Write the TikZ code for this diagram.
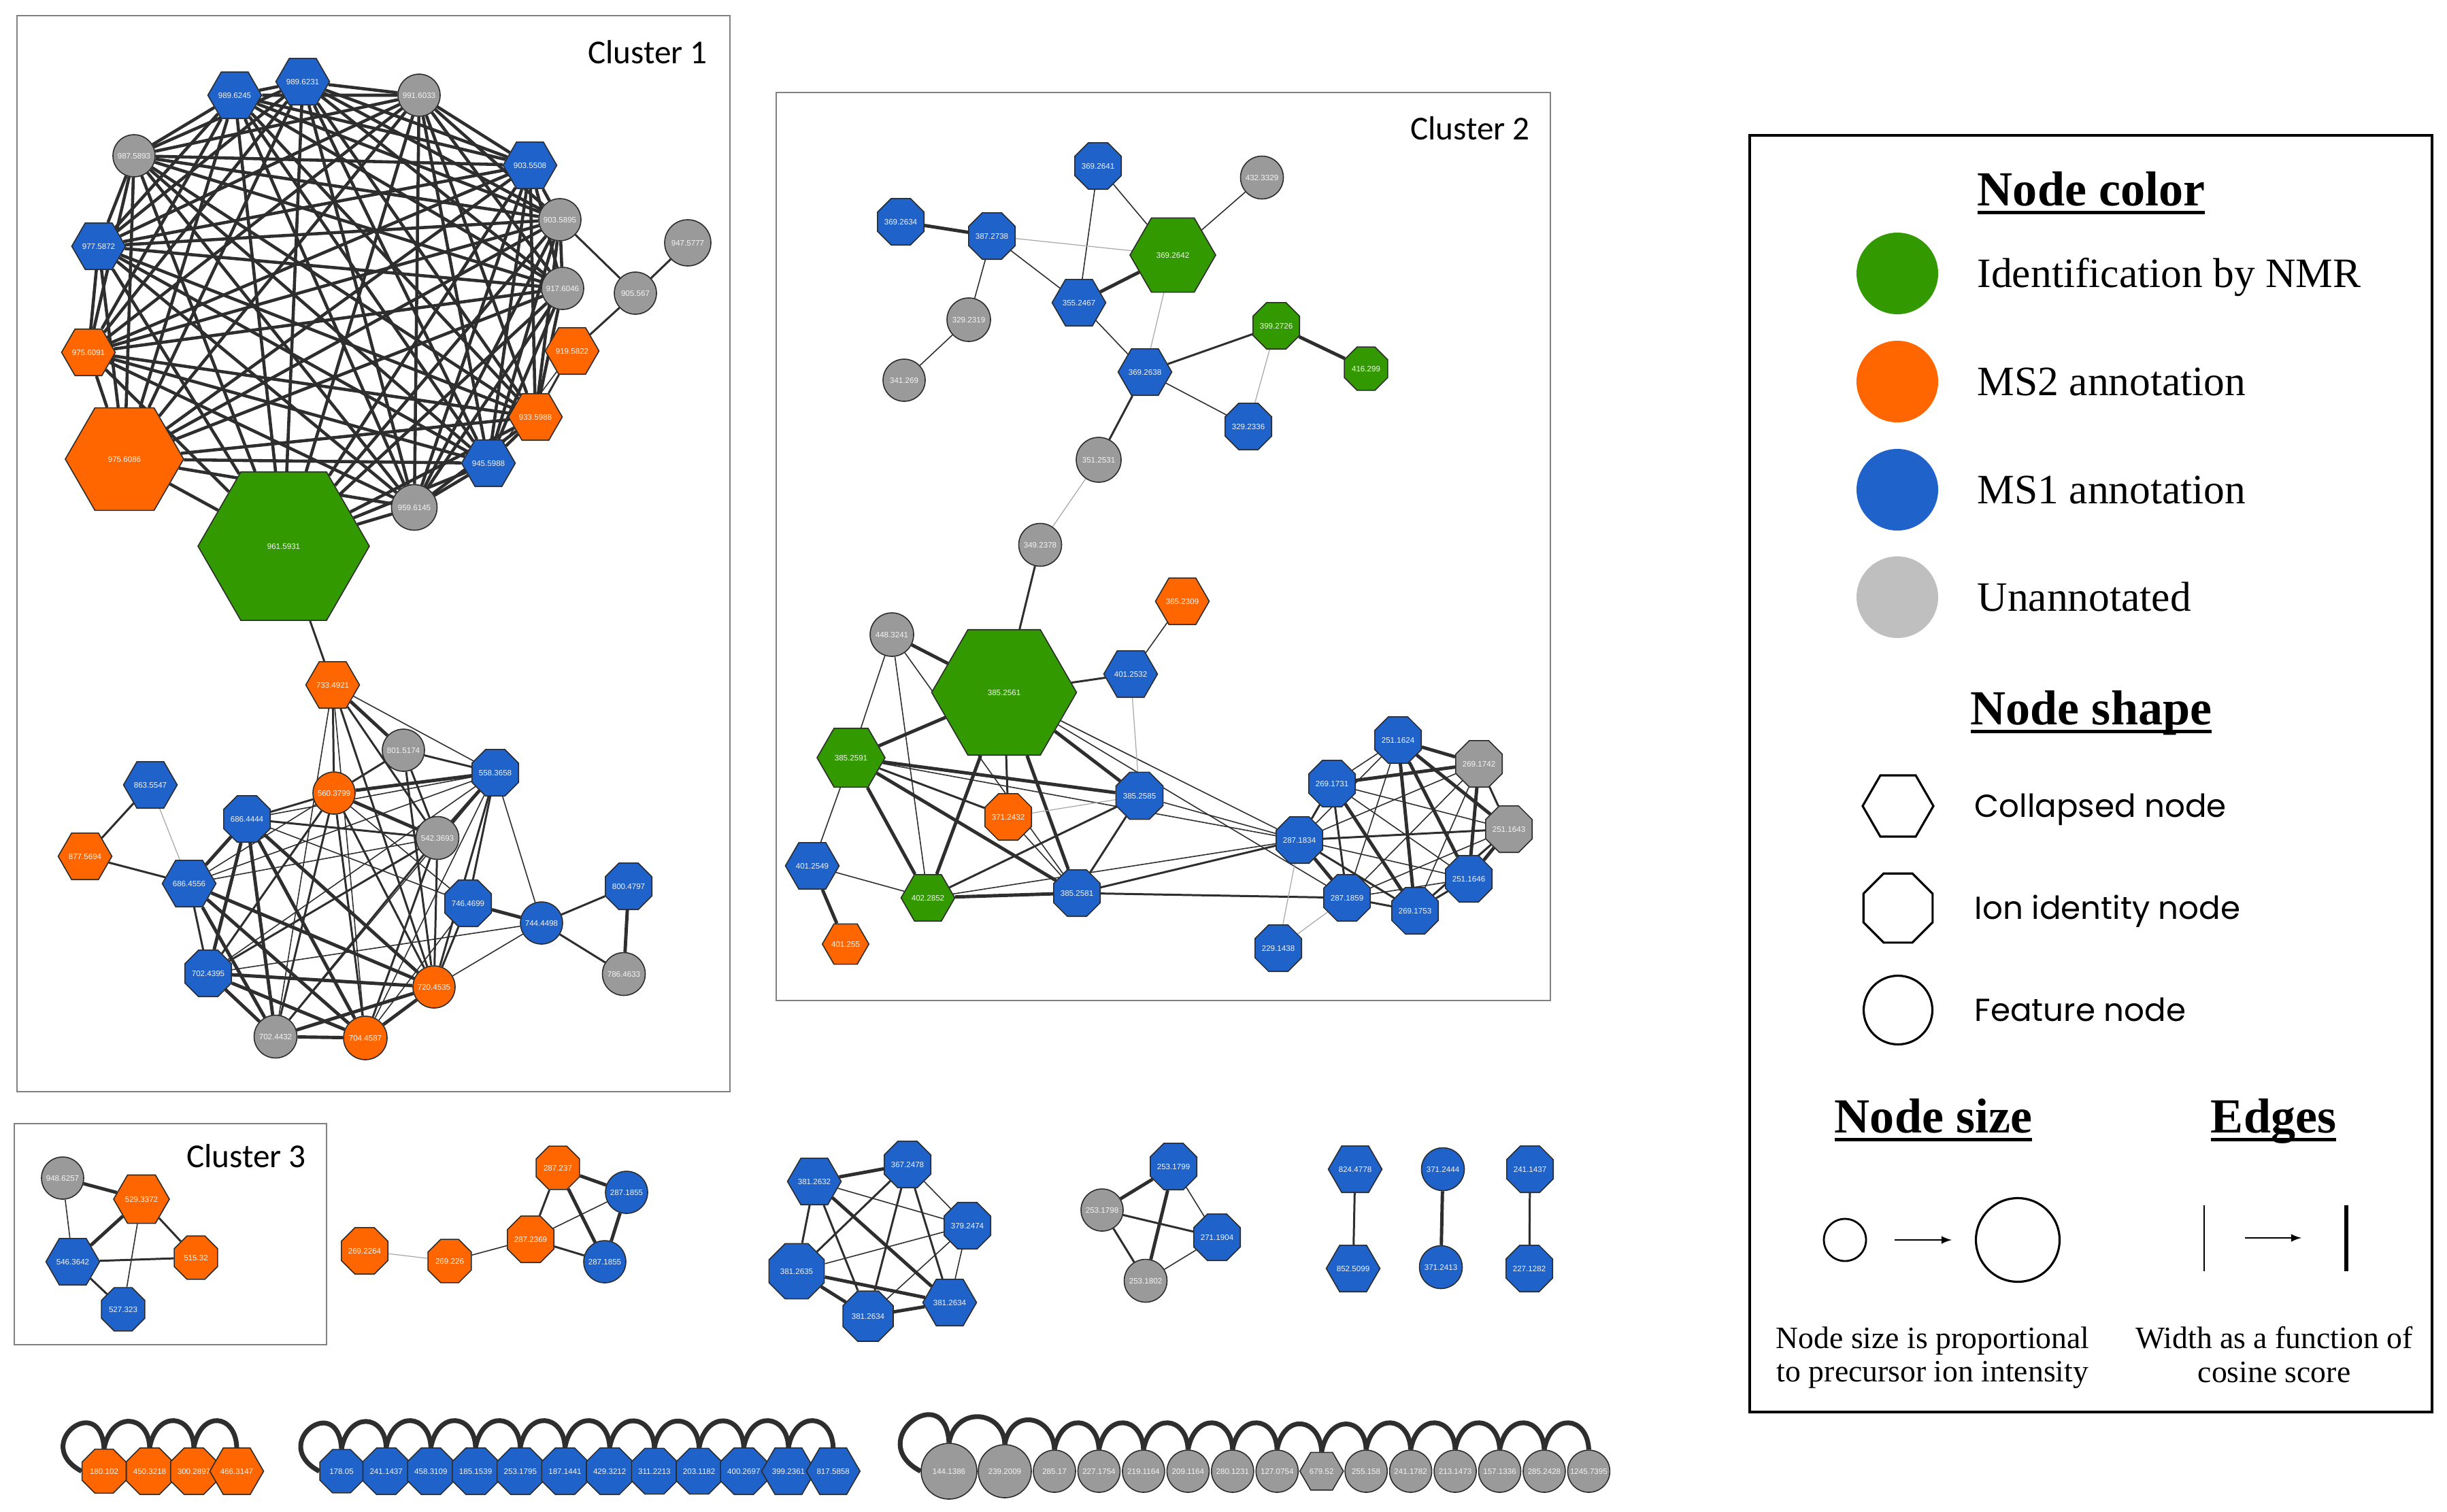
\documentclass[tikz,border=0pt]{standalone}
\usepackage{fontspec}
\setmainfont{Liberation Serif}
\newfontfamily\labelfont{Liberation Sans}
\newfontfamily\clusterfont{Carlito}
\newfontfamily\shapefont{Poppins}
\usetikzlibrary{shapes.geometric,backgrounds}
\definecolor{NmrColor}{HTML}{339900}
\definecolor{MsTwoColor}{HTML}{FF6600}
\definecolor{MsOneColor}{HTML}{1F62CA}
\definecolor{UnannColor}{HTML}{9A9A9A}
\definecolor{UnannLegend}{HTML}{BFBFBF}
\definecolor{BorderColor}{HTML}{2B2B2B}
\definecolor{EdgeColor}{HTML}{2E2E2E}
\definecolor{FaintEdge}{HTML}{A8A8A8}
\definecolor{FrameColor}{HTML}{808080}
\definecolor{LabelColor}{HTML}{F4F4F4}
\tikzstyle{net_node}=[draw=BorderColor, line width=0.45pt, inner sep=0pt,
                      text=LabelColor, font=\labelfont\fontsize{3.3}{3.6}\selectfont]
\tikzstyle{collapsed_node}=[net_node, regular polygon, regular polygon sides=6, minimum size=0.64cm]
\tikzstyle{ion_node}=[net_node, regular polygon, regular polygon sides=8, minimum size=0.69cm]
\tikzstyle{feature_node}=[net_node, circle, minimum size=0.62cm]
\tikzstyle{nmr}=[fill=NmrColor]
\tikzstyle{mstwo}=[fill=MsTwoColor]
\tikzstyle{msone}=[fill=MsOneColor]
\tikzstyle{unann}=[fill=UnannColor]
\tikzstyle{edge_heavy}=[line width=1.4pt, draw=EdgeColor]
\tikzstyle{edge_mid}=[line width=0.85pt, draw=EdgeColor]
\tikzstyle{edge_thin}=[line width=0.45pt, draw=EdgeColor]
\tikzstyle{edge_faint}=[line width=0.35pt, draw=FaintEdge]
\tikzstyle{edge_loop}=[line width=2.0pt, draw=EdgeColor]
\tikzstyle{cluster_frame}=[draw=FrameColor, line width=0.6pt]
\tikzstyle{cluster_label}=[anchor=base, inner sep=0pt, font=\clusterfont\fontsize{14}{17}\selectfont]
\tikzstyle{legend_title}=[anchor=base, inner sep=0pt, font=\bfseries\fontsize{20.5}{24}\selectfont]
\tikzstyle{legend_item}=[anchor=base west, inner sep=0pt, font=\fontsize{17.5}{21}\selectfont]
\tikzstyle{shape_item}=[anchor=base west, inner sep=0pt, font=\shapefont\fontsize{13.3}{16}\selectfont]
\tikzstyle{legend_caption}=[anchor=north, inner sep=0pt, align=center, font=\fontsize{13}{14}\selectfont]
\tikzstyle{legend_shape}=[draw=black, line width=0.9pt, inner sep=0pt]
\newcommand{\LegendTitle}[1]{\setbox0\hbox{#1}\rlap{\rule[-3.6pt]{\wd0}{1.2pt}}\box0}

\begin{document}
\begin{tikzpicture}
    \useasboundingbox (0cm, 0cm) rectangle (35.97cm, -22.22cm);
    \begin{scope}[on background layer]
        \fill[white] (0cm, 0cm) rectangle (35.97cm, -22.22cm);
    \end{scope}

    % ---------------------------------------------------------------------------------------------------------
    %  Cluster 1
    \draw[cluster_frame] (0.25cm, -0.23cm) rectangle (10.73cm, -16.05cm);
    \node at (9.52cm, -0.93cm) (Cl1) [cluster_label] {Cluster 1};

    \node at (3.45cm, -1.40cm) (A0) [collapsed_node, msone, minimum size=0.76cm] {989.6245};
    \node at (4.45cm, -1.20cm) (A1) [collapsed_node, msone] {989.6231};
    \node at (6.16cm, -1.40cm) (A2) [feature_node, unann] {991.6033};
    \node at (1.97cm, -2.29cm) (A3) [feature_node, unann] {987.5893};
    \node at (7.79cm, -2.43cm) (A4) [collapsed_node, msone] {903.5508};
    \node at (8.23cm, -3.23cm) (A5) [feature_node, unann] {903.5895};
    \node at (8.27cm, -4.24cm) (A6) [feature_node, unann] {917.6046};
    \node at (9.34cm, -4.31cm) (A7) [feature_node, unann] {905.567};
    \node at (10.11cm, -3.57cm) (A8) [feature_node, unann, minimum size=0.68cm] {947.5777};
    \node at (1.45cm, -3.62cm) (A9) [collapsed_node, msone] {977.5872};
    \node at (1.30cm, -5.18cm) (A10) [collapsed_node, mstwo, minimum size=0.65cm] {975.6091};
    \node at (8.41cm, -5.16cm) (A11) [collapsed_node, mstwo, minimum size=0.65cm] {919.5822};
    \node at (7.87cm, -6.13cm) (A12) [collapsed_node, mstwo] {933.5988};
    \node at (1.83cm, -6.75cm) (A13) [collapsed_node, mstwo, minimum size=1.74cm] {975.6086};
    \node at (7.18cm, -6.81cm) (A14) [collapsed_node, msone, minimum size=0.76cm] {945.5988};
    \node at (6.09cm, -7.46cm) (A15) [feature_node, unann, minimum size=0.67cm] {959.6145};
    \node at (4.17cm, -8.03cm) (A16) [collapsed_node, nmr, minimum size=2.52cm] {961.5931};

    \node at (4.89cm, -10.07cm) (B0) [collapsed_node, mstwo] {733.4921};
    \node at (5.93cm, -11.03cm) (B1) [feature_node, unann] {801.5174};
    \node at (7.28cm, -11.36cm) (B2) [ion_node, msone] {558.3658};
    \node at (4.91cm, -11.66cm) (B3) [feature_node, mstwo] {560.3799};
    \node at (2.21cm, -11.54cm) (B4) [collapsed_node, msone] {863.5547};
    \node at (3.63cm, -12.04cm) (B5) [ion_node, msone] {686.4444};
    \node at (6.43cm, -12.32cm) (B6) [feature_node, unann, minimum size=0.63cm] {542.3693};
    \node at (1.25cm, -12.59cm) (B7) [collapsed_node, mstwo] {877.5694};
    \node at (2.78cm, -12.99cm) (B8) [collapsed_node, msone] {686.4556};
    \node at (6.88cm, -13.28cm) (B9) [ion_node, msone] {746.4699};
    \node at (7.96cm, -13.57cm) (B10) [feature_node, msone] {744.4498};
    \node at (9.24cm, -13.03cm) (B11) [ion_node, msone] {800.4797};
    \node at (3.06cm, -14.31cm) (B12) [ion_node, msone] {702.4395};
    \node at (6.38cm, -14.51cm) (B13) [feature_node, mstwo] {720.4535};
    \node at (9.17cm, -14.32cm) (B14) [feature_node, unann, minimum size=0.63cm] {786.4633};
    \node at (4.05cm, -15.24cm) (B15) [feature_node, unann, minimum size=0.63cm] {702.4432};
    \node at (5.37cm, -15.26cm) (B16) [feature_node, mstwo, minimum size=0.64cm] {704.4587};

    \begin{scope}[on background layer]
        \foreach \i in {0,1,2,3,4,5,6,9,10,12,13,14,15,16} {
            \foreach \j in {0,1,2,3,4,5,6,9,10,12,13,14,15,16} {
                \ifnum\i<\j \draw[line width=1.3pt, draw=EdgeColor] (A\i) -- (A\j); \fi
            }
        }
        \foreach \a/\b in {A5/A7, A7/A8, A7/A11, A11/A12, A16/B0}
            \draw[edge_mid] (\a) -- (\b);
        \draw[edge_thin] (A11) -- (A14);

        \foreach \a/\b in {B0/B1, B2/B3, B2/B6, B3/B6, B5/B8, B5/B12, B5/B15, B5/B16, B5/B13, B8/B15,
                           B8/B16, B8/B13, B9/B10, B11/B14, B12/B13, B12/B16, B12/B15, B13/B16, B15/B16, B15/B13}
            \draw[edge_heavy] (\a) -- (\b);
        \foreach \a/\b in {B0/B3, B0/B6, B0/B13, B1/B3, B1/B2, B1/B6, B1/B13, B3/B5, B3/B12, B3/B15, B3/B16,
                           B3/B13, B2/B9, B2/B13, B4/B7, B7/B8, B5/B6, B6/B12, B6/B15, B6/B16, B6/B13, B8/B12,
                           B9/B13, B10/B11, B10/B14}
            \draw[edge_mid] (\a) -- (\b);
        \foreach \a/\b in {B0/B2, B0/B15, B0/B16, B2/B5, B2/B8, B2/B10, B2/B15, B2/B12, B3/B8, B3/B9, B5/B9,
                           B6/B8, B10/B12, B10/B13, B9/B16, B2/B16}
            \draw[edge_thin] (\a) -- (\b);
        \draw[edge_faint] (B4) -- (B8);
    \end{scope}

    % ---------------------------------------------------------------------------------------------------------
    %  Cluster 2
    \draw[cluster_frame] (11.41cm, -1.36cm) rectangle (22.79cm, -14.71cm);
    \node at (21.61cm, -2.05cm) (Cl2) [cluster_label] {Cluster 2};

    \node at (16.14cm, -2.44cm) (D0) [ion_node, msone] {369.2641};
    \node at (18.55cm, -2.61cm) (D1) [feature_node, unann, minimum size=0.63cm] {432.3329};
    \node at (13.24cm, -3.26cm) (D2) [ion_node, msone] {369.2634};
    \node at (14.58cm, -3.47cm) (D3) [ion_node, msone] {387.2738};
    \node at (17.24cm, -3.75cm) (D4) [collapsed_node, nmr, minimum size=1.26cm] {369.2642};
    \node at (15.86cm, -4.45cm) (D5) [collapsed_node, msone] {355.2467};
    \node at (14.24cm, -4.70cm) (D6) [feature_node, unann, minimum size=0.64cm] {329.2319};
    \node at (18.76cm, -4.79cm) (D7) [ion_node, nmr, minimum size=0.73cm] {399.2726};
    \node at (13.29cm, -5.59cm) (D8) [feature_node, unann] {341.269};
    \node at (16.83cm, -5.47cm) (D9) [collapsed_node, msone, minimum size=0.66cm] {369.2638};
    \node at (20.08cm, -5.42cm) (D10) [ion_node, nmr] {416.299};
    \node at (18.35cm, -6.27cm) (D11) [ion_node, msone] {329.2336};
    \node at (16.15cm, -6.76cm) (D12) [feature_node, unann, minimum size=0.66cm] {351.2531};
    \node at (15.29cm, -8.01cm) (D13) [feature_node, unann, minimum size=0.63cm] {349.2378};

    \node at (17.38cm, -8.84cm) (E0) [collapsed_node, mstwo, minimum size=0.63cm] {365.2309};
    \node at (13.11cm, -9.33cm) (E1) [feature_node, unann, minimum size=0.64cm] {448.3241};
    \node at (14.76cm, -10.18cm) (E2) [collapsed_node, nmr, minimum size=2.13cm] {385.2561};
    \node at (16.62cm, -9.91cm) (E3) [collapsed_node, msone, minimum size=0.76cm] {401.2532};
    \node at (12.51cm, -11.14cm) (E4) [collapsed_node, nmr, minimum size=1.00cm] {385.2591};
    \node at (16.75cm, -11.70cm) (E5) [ion_node, msone, minimum size=0.75cm] {385.2585};
    \node at (14.82cm, -12.01cm) (E6) [ion_node, mstwo, minimum size=0.67cm] {371.2432};
    \node at (11.94cm, -12.73cm) (E7) [collapsed_node, msone, minimum size=0.62cm] {401.2549};
    \node at (13.64cm, -13.20cm) (E8) [collapsed_node, nmr, minimum size=0.66cm] {402.2852};
    \node at (15.83cm, -13.13cm) (E9) [ion_node, msone] {385.2581};
    \node at (12.43cm, -13.88cm) (E10) [collapsed_node, mstwo, minimum size=0.63cm] {401.255};

    \node at (20.55cm, -10.88cm) (F1) [ion_node, msone] {251.1624};
    \node at (21.74cm, -11.23cm) (F2) [ion_node, unann] {269.1742};
    \node at (19.58cm, -11.52cm) (F3) [ion_node, msone] {269.1731};
    \node at (22.18cm, -12.19cm) (F4) [ion_node, unann] {251.1643};
    \node at (19.10cm, -12.35cm) (F5) [ion_node, msone] {287.1834};
    \node at (21.59cm, -12.92cm) (F6) [ion_node, msone] {251.1646};
    \node at (19.80cm, -13.20cm) (F7) [ion_node, msone, minimum size=0.72cm] {287.1859};
    \node at (20.80cm, -13.39cm) (F8) [ion_node, msone] {269.1753};
    \node at (18.79cm, -13.94cm) (F9) [ion_node, msone] {229.1438};

    \begin{scope}[on background layer]
        \foreach \i in {1,...,8} {
            \foreach \j in {1,...,8} {
                \ifnum\i<\j \draw[edge_thin] (F\i) -- (F\j); \fi
            }
        }
        \foreach \a/\b in {D2/D3, D4/D5, D7/D10, E1/E2, E2/E4, E2/E8, E2/E9, E4/E5, E4/E8, E4/E9, E7/E10,
                           E8/E9, E2/E5, F1/F2, F1/F4, F1/F6, F2/F3, F3/F8, F4/F6, F5/F7, F1/F8, F2/F6}
            \draw[edge_heavy] (\a) -- (\b);
        \foreach \a/\b in {D7/D9, D9/D12, D13/E2, E2/E3, E2/E6, E4/E6, E5/E8, E5/E9, E9/F5, E9/F7,
                           F2/F4, F3/F5, F3/F7, F4/F5, F4/F8, F5/F8, F6/F8, F7/F8}
            \draw[edge_mid] (\a) -- (\b);
        \foreach \a/\b in {D0/D4, D0/D5, D1/D4, D3/D5, D3/D6, D6/D8, D5/D9, D9/D11, E0/E3, E1/E4, E1/E8,
                           E1/E9, E2/F5, E2/F7, E4/E7, E7/E8, E6/E9, E8/F5, E4/F5, E5/F5}
            \draw[edge_thin] (\a) -- (\b);
        \foreach \a/\b in {D3/D4, D4/D9, D7/D11, D12/D13, E3/E5, E5/E6, F9/F5, F9/F7}
            \draw[edge_faint] (\a) -- (\b);
    \end{scope}

    % ---------------------------------------------------------------------------------------------------------
    %  Cluster 3 and small components
    \draw[cluster_frame] (0.21cm, -16.52cm) rectangle (4.80cm, -19.77cm);
    \node at (3.62cm, -17.16cm) (Cl3) [cluster_label] {Cluster 3};

    \node at (0.92cm, -17.32cm) (G0) [feature_node, unann] {948.6257};
    \node at (2.08cm, -17.63cm) (G1) [collapsed_node, mstwo, minimum size=0.82cm] {529.3372};
    \node at (1.07cm, -18.55cm) (G2) [collapsed_node, msone, minimum size=0.62cm] {546.3642};
    \node at (2.88cm, -18.49cm) (G3) [ion_node, mstwo] {515.32};
    \node at (1.81cm, -19.25cm) (G4) [ion_node, msone] {527.323};

    \node at (5.36cm, -18.39cm) (H0) [ion_node, mstwo] {269.2264};
    \node at (6.61cm, -18.54cm) (H1) [ion_node, mstwo] {269.226};
    \node at (7.80cm, -18.22cm) (H2) [ion_node, mstwo] {287.2369};
    \node at (8.20cm, -17.17cm) (H3) [ion_node, mstwo] {287.237};
    \node at (9.21cm, -17.53cm) (H4) [feature_node, msone] {287.1855};
    \node at (8.89cm, -18.55cm) (H5) [feature_node, msone] {287.1855};

    \node at (11.97cm, -17.37cm) (I0) [collapsed_node, msone, minimum size=0.62cm] {381.2632};
    \node at (13.34cm, -17.12cm) (I1) [ion_node, msone, minimum size=0.71cm] {367.2478};
    \node at (14.22cm, -18.02cm) (I2) [ion_node, msone] {379.2474};
    \node at (11.71cm, -18.69cm) (I3) [ion_node, msone, minimum size=0.88cm] {381.2635};
    \node at (12.76cm, -19.35cm) (I4) [ion_node, msone, minimum size=0.80cm] {381.2634};
    \node at (13.96cm, -19.15cm) (I5) [collapsed_node, msone] {381.2634};

    \node at (17.25cm, -17.15cm) (J0) [ion_node, msone] {253.1799};
    \node at (16.20cm, -17.79cm) (J1) [feature_node, unann] {253.1798};
    \node at (17.89cm, -18.19cm) (J2) [ion_node, msone, minimum size=0.72cm] {271.1904};
    \node at (16.84cm, -18.83cm) (J3) [feature_node, unann, minimum size=0.63cm] {253.1802};

    \node at (19.92cm, -17.19cm) (P0) [collapsed_node, msone] {824.4778};
    \node at (19.89cm, -18.65cm) (P1) [collapsed_node, msone] {852.5099};
    \node at (21.21cm, -17.19cm) (P2) [feature_node, msone, minimum size=0.63cm] {371.2444};
    \node at (21.18cm, -18.63cm) (P3) [feature_node, msone, minimum size=0.63cm] {371.2413};
    \node at (22.49cm, -17.19cm) (P4) [ion_node, msone] {241.1437};
    \node at (22.48cm, -18.65cm) (P5) [ion_node, msone] {227.1282};

    \begin{scope}[on background layer]
        \foreach \a/\b in {G0/G1, G1/G2, H3/H4, H3/H5, H4/H5, I0/I1, I0/I5, I3/I4, I3/I5, I4/I5,
                           J0/J1, J0/J3, P2/P3}
            \draw[edge_heavy] (\a) -- (\b);
        \foreach \a/\b in {G1/G3, G2/G3, G2/G4, H2/H3, H2/H5, I0/I3, I0/I4, I1/I3, I1/I5, I1/I4,
                           J1/J3, J1/J2, P0/P1, P4/P5}
            \draw[edge_mid] (\a) -- (\b);
        \foreach \a/\b in {G0/G2, G1/G4, H1/H2, H2/H4, I0/I2, I1/I2, I2/I3, I2/I4, I2/I5, J0/J2, J2/J3}
            \draw[edge_thin] (\a) -- (\b);
        \draw[edge_faint] (H0) -- (H1);
    \end{scope}

    % ---------------------------------------------------------------------------------------------------------
    %  Self-loop rows
    \node at (1.53cm, -21.63cm) (R0) [ion_node, mstwo, minimum size=0.70cm] {180.102};
    \node at (2.20cm, -21.63cm) (R1) [ion_node, mstwo, minimum size=0.70cm] {450.3218};
    \node at (2.85cm, -21.63cm) (R2) [ion_node, mstwo, minimum size=0.70cm] {300.2897};
    \node at (3.48cm, -21.63cm) (R3) [collapsed_node, mstwo, minimum size=0.60cm] {466.3147};

    \foreach \lbl/\shp [count=\k from 0] in {178.05/ion_node, 241.1437/ion_node, 458.3109/ion_node,
            185.1539/ion_node, 253.1795/ion_node, 187.1441/ion_node, 429.3212/ion_node, 311.2213/ion_node,
            203.1182/ion_node, 400.2697/ion_node, 399.2361/collapsed_node, 817.5858/collapsed_node}
        \node at ({5.02cm + 0.657cm*\k}, -21.63cm) (S\k) [\shp, msone] {\lbl};

    \node at (13.95cm, -21.63cm) (T0) [feature_node, unann, minimum size=0.82cm] {144.1386};
    \node at (14.77cm, -21.63cm) (T1) [feature_node, unann, minimum size=0.78cm] {239.2009};
    \foreach \lbl/\shp [count=\k from 2] in {285.17/feature_node, 227.1754/feature_node,
            219.1164/feature_node, 209.1164/feature_node, 280.1231/feature_node, 127.0754/feature_node,
            679.52/collapsed_node, 255.158/feature_node, 241.1782/feature_node, 213.1473/feature_node,
            157.1336/feature_node, 285.2428/feature_node, 1245.7395/feature_node}
        \node at ({15.50cm + 0.6545cm*(\k-2)}, -21.63cm) (T\k) [\shp, unann] {\lbl};

    \begin{scope}[on background layer]
        \draw[edge_loop] (R0.north) .. controls +(-0.05cm, 0.85cm) and +(-0.75cm, 0.40cm) .. (R0.west);
        \draw[edge_loop] (S0.north) .. controls +(-0.05cm, 0.85cm) and +(-0.75cm, 0.40cm) .. (S0.west);
        \draw[edge_loop] (T0.north) .. controls +(-0.05cm, 0.95cm) and +(-0.85cm, 0.45cm) .. (T0.west);
        \foreach \k in {1,2,3} {
            \pgfmathtruncatemacro{\prev}{\k-1}
            \draw[edge_loop] (R\k.north) .. controls +(-0.02cm, 0.50cm) and +(0.10cm, 0.55cm) .. (R\prev.north);
        }
        \foreach \k in {1,...,11} {
            \pgfmathtruncatemacro{\prev}{\k-1}
            \draw[edge_loop] (S\k.north) .. controls +(-0.02cm, 0.50cm) and +(0.10cm, 0.55cm) .. (S\prev.north);
        }
        \foreach \k in {1,...,14} {
            \pgfmathtruncatemacro{\prev}{\k-1}
            \draw[edge_loop] (T\k.north) .. controls +(-0.02cm, 0.50cm) and +(0.10cm, 0.55cm) .. (T\prev.north);
        }
    \end{scope}

    % ---------------------------------------------------------------------------------------------------------
    %  Legend
    \draw[black, line width=1pt] (25.72cm, -1.99cm) rectangle (35.75cm, -20.76cm);
    \node at (30.74cm, -3.02cm) (ColorTitle) [legend_title] {\LegendTitle{Node color}};
    \node at (27.89cm, -4.02cm) (SwNmr) [circle, fill=NmrColor, minimum size=1.20cm] {};
    \node at (27.89cm, -5.61cm) (SwMsTwo) [circle, fill=MsTwoColor, minimum size=1.20cm] {};
    \node at (27.89cm, -7.20cm) (SwMsOne) [circle, fill=MsOneColor, minimum size=1.20cm] {};
    \node at (27.89cm, -8.78cm) (SwUnann) [circle, fill=UnannLegend, minimum size=1.20cm] {};
    \node at (29.06cm, -4.22cm) (TxNmr) [legend_item] {Identification by NMR};
    \node at (29.06cm, -5.81cm) (TxMsTwo) [legend_item] {MS2 annotation};
    \node at (29.06cm, -7.40cm) (TxMsOne) [legend_item] {MS1 annotation};
    \node at (29.06cm, -8.98cm) (TxUnann) [legend_item] {Unannotated};

    \node at (30.74cm, -10.65cm) (ShapeTitle) [legend_title] {\LegendTitle{Node shape}};
    \node at (27.90cm, -11.85cm) (ShHex) [legend_shape, regular polygon, regular polygon sides=6, minimum size=1.04cm] {};
    \node at (27.90cm, -13.35cm) (ShOct) [legend_shape, regular polygon, regular polygon sides=8, minimum size=1.10cm] {};
    \node at (27.90cm, -14.85cm) (ShCirc) [legend_shape, circle, minimum size=1.01cm] {};
    \node at (29.02cm, -12.01cm) (TxHex) [shape_item] {Collapsed node};
    \node at (29.02cm, -13.51cm) (TxOct) [shape_item] {Ion identity node};
    \node at (29.02cm, -15.01cm) (TxCirc) [shape_item] {Feature node};

    \node at (28.42cm, -16.65cm) (SizeTitle) [legend_title] {\LegendTitle{Node size}};
    \node at (33.42cm, -16.65cm) (EdgeTitle) [legend_title] {\LegendTitle{Edges}};
    \node at (27.12cm, -18.23cm) (SizeSmall) [legend_shape, circle, line width=0.8pt, minimum size=0.62cm] {};
    \node at (29.66cm, -18.23cm) (SizeBig) [legend_shape, circle, line width=0.9pt, minimum size=1.23cm] {};
    \coordinate (SizeArrowA) at (27.85cm, -18.23cm);
    \coordinate (SizeArrowB) at (28.69cm, -18.23cm);
    \draw[-latex, line width=0.5pt] (SizeArrowA) -- (SizeArrowB);
    \coordinate (ThinTop) at (32.40cm, -17.72cm);
    \coordinate (ThinBot) at (32.40cm, -18.69cm);
    \coordinate (ThickTop) at (34.49cm, -17.72cm);
    \coordinate (ThickBot) at (34.49cm, -18.69cm);
    \coordinate (EdgeArrowA) at (33.00cm, -18.20cm);
    \coordinate (EdgeArrowB) at (33.83cm, -18.20cm);
    \draw[line width=0.4pt] (ThinTop) -- (ThinBot);
    \draw[line width=1.6pt] (ThickTop) -- (ThickBot);
    \draw[-latex, line width=0.5pt] (EdgeArrowA) -- (EdgeArrowB);
    \node at (28.41cm, -19.50cm) (SizeCaption) [legend_caption] {Node size is proportional\\to precursor ion intensity};
    \node at (33.43cm, -19.50cm) (EdgeCaption) [legend_caption] {Width as a function of\\cosine score};
\end{tikzpicture}
\end{document}
